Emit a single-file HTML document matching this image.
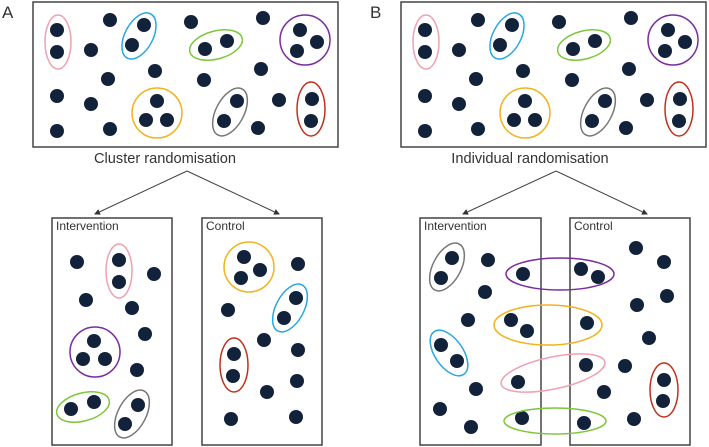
<!DOCTYPE html>
<html><head><style>body{margin:0;background:#fff}svg{display:block}</style></head><body>
<svg width="709" height="447" viewBox="0 0 709 447" xmlns="http://www.w3.org/2000/svg" font-family="Liberation Sans, sans-serif">
<defs>
<g id="top">
<rect x="33" y="2" width="305" height="145" fill="none" stroke="#444" stroke-width="1.5"/>
<g fill="#12223a">
<circle cx="57" cy="30" r="7"/><circle cx="57" cy="52" r="7"/>
<circle cx="110" cy="20" r="7"/><circle cx="91" cy="50" r="7"/>
<circle cx="144" cy="25" r="7"/><circle cx="132" cy="45" r="7"/>
<circle cx="191" cy="22" r="7"/>
<circle cx="205" cy="49" r="7"/><circle cx="227" cy="41" r="7"/>
<circle cx="263" cy="18" r="7"/>
<circle cx="300" cy="30" r="7"/><circle cx="317" cy="42" r="7"/><circle cx="297" cy="51" r="7"/>
<circle cx="108" cy="79" r="7"/><circle cx="155" cy="71" r="7"/><circle cx="204" cy="80" r="7"/><circle cx="261" cy="69" r="7"/>
<circle cx="57" cy="96" r="7"/><circle cx="91" cy="104" r="7"/><circle cx="110" cy="129" r="7"/><circle cx="57" cy="131" r="7"/>
<circle cx="157" cy="101" r="7"/><circle cx="146" cy="120" r="7"/><circle cx="167" cy="120" r="7"/>
<circle cx="237" cy="101" r="7"/><circle cx="224" cy="121" r="7"/>
<circle cx="279" cy="100" r="7"/><circle cx="258" cy="128" r="7"/>
<circle cx="312" cy="99" r="7"/><circle cx="311" cy="121" r="7"/>
</g>
<g fill="none" stroke-width="1.5">
<ellipse cx="58" cy="42" rx="13" ry="27" stroke="#f0a0b0"/>
<ellipse cx="139" cy="36" rx="14" ry="25" stroke="#2aa7e0" transform="rotate(28 139 36)"/>
<ellipse cx="216" cy="45" rx="27" ry="14" stroke="#7cc63a" transform="rotate(-15 216 45)"/>
<circle cx="305" cy="40" r="25" stroke="#7a2c9e"/>
<circle cx="157" cy="113" r="25" stroke="#f2b21b"/>
<ellipse cx="230" cy="112" rx="14" ry="26" stroke="#777" transform="rotate(28 230 112)"/>
<ellipse cx="311" cy="109" rx="14" ry="27" stroke="#c0301d"/>
</g>
</g>
<marker id="ah" markerWidth="6" markerHeight="6" refX="5" refY="3" orient="auto"><path d="M0,0L6,3L0,6z" fill="#333"/></marker>
</defs>
<text x="2" y="18" font-size="17" fill="#333">A</text>
<text x="370" y="18" font-size="17" fill="#333">B</text>
<use href="#top"/>
<use href="#top" transform="translate(368,0)"/>
<text x="165" y="163" font-size="14.6" fill="#333" text-anchor="middle">Cluster randomisation</text>
<text x="530" y="163" font-size="14.6" fill="#333" text-anchor="middle">Individual randomisation</text>
<g stroke="#444" stroke-width="1" marker-end="url(#ah)">
<line x1="187" y1="171" x2="95" y2="214"/><line x1="187" y1="171" x2="279" y2="214"/>
<line x1="556" y1="171" x2="463" y2="214"/><line x1="556" y1="171" x2="647" y2="214"/>
</g>
<g fill="none" stroke="#444" stroke-width="1.5">
<rect x="52" y="218" width="120" height="227"/><rect x="202" y="218" width="120" height="227"/>
<rect x="420" y="218" width="121" height="227"/><rect x="570" y="218" width="120" height="227"/>
</g>
<g font-size="12" fill="#333">
<text x="56" y="230">Intervention</text><text x="206" y="230">Control</text>
<text x="424" y="230">Intervention</text><text x="574" y="230">Control</text>
</g>
<g fill="#12223a">
<circle cx="77" cy="262" r="7"/><circle cx="119" cy="260" r="7"/><circle cx="119" cy="282" r="7"/><circle cx="154" cy="274" r="7"/><circle cx="86" cy="300" r="7"/><circle cx="132" cy="308" r="7"/><circle cx="145" cy="334" r="7"/>
<circle cx="94" cy="341" r="7"/><circle cx="83" cy="359" r="7"/><circle cx="105" cy="359" r="7"/><circle cx="137" cy="370" r="7"/>
<circle cx="71" cy="409" r="7"/><circle cx="94" cy="402" r="7"/><circle cx="138" cy="405" r="7"/><circle cx="125" cy="424" r="7"/>
<circle cx="244" cy="257" r="7"/><circle cx="260" cy="270" r="7"/><circle cx="241" cy="278" r="7"/><circle cx="298" cy="264" r="7"/>
<circle cx="296" cy="298" r="7"/><circle cx="284" cy="318" r="7"/><circle cx="228" cy="310" r="7"/>
<circle cx="264" cy="340" r="7"/><circle cx="298" cy="350" r="7"/><circle cx="234" cy="354" r="7"/><circle cx="233" cy="376" r="7"/>
<circle cx="267" cy="392" r="7"/><circle cx="297" cy="381" r="7"/><circle cx="231" cy="419" r="7"/><circle cx="296" cy="417" r="7"/>
<circle cx="452" cy="258" r="7"/><circle cx="441" cy="278" r="7"/><circle cx="488" cy="260" r="7"/><circle cx="485" cy="292" r="7"/>
<circle cx="523" cy="274" r="7"/><circle cx="581" cy="269" r="7"/><circle cx="598" cy="277" r="7"/>
<circle cx="636" cy="248" r="7"/><circle cx="664" cy="262" r="7"/><circle cx="667" cy="296" r="7"/><circle cx="637" cy="305" r="7"/>
<circle cx="511" cy="320" r="7"/><circle cx="527" cy="331" r="7"/><circle cx="587" cy="323" r="7"/><circle cx="468" cy="320" r="7"/>
<circle cx="441" cy="345" r="7"/><circle cx="457" cy="361" r="7"/><circle cx="649" cy="338" r="7"/>
<circle cx="518" cy="382" r="7"/><circle cx="586" cy="365" r="7"/><circle cx="625" cy="366" r="7"/>
<circle cx="664" cy="380" r="7"/><circle cx="663" cy="401" r="7"/><circle cx="604" cy="392" r="7"/><circle cx="476" cy="389" r="7"/>
<circle cx="522" cy="418" r="7"/><circle cx="584" cy="423" r="7"/><circle cx="634" cy="419" r="7"/>
<circle cx="440" cy="409" r="7"/><circle cx="471" cy="427" r="7"/>
</g>
<g fill="none" stroke-width="1.5">
<ellipse cx="119" cy="271" rx="13" ry="27" stroke="#f0a0b0"/>
<circle cx="95" cy="352" r="25" stroke="#7a2c9e"/>
<ellipse cx="83" cy="407" rx="27" ry="14" stroke="#7cc63a" transform="rotate(-15 83 407)"/>
<ellipse cx="132" cy="414" rx="14" ry="26" stroke="#777" transform="rotate(28 132 414)"/>
<circle cx="249" cy="267" r="25" stroke="#f2b21b"/>
<ellipse cx="290" cy="308" rx="14" ry="26" stroke="#2aa7e0" transform="rotate(28 290 308)"/>
<ellipse cx="234" cy="365" rx="14" ry="27" stroke="#c0301d"/>
<ellipse cx="447" cy="267" rx="14" ry="26" stroke="#777" transform="rotate(28 447 267)"/>
<ellipse cx="560" cy="274" rx="54" ry="16" stroke="#7a2c9e"/>
<ellipse cx="548" cy="325" rx="54" ry="20" stroke="#f2b21b"/>
<ellipse cx="449" cy="353" rx="14" ry="26" stroke="#2aa7e0" transform="rotate(-35 449 353)"/>
<ellipse cx="553" cy="373" rx="53" ry="16" stroke="#f0a0b0" transform="rotate(-12 553 373)"/>
<ellipse cx="664" cy="390" rx="14" ry="27" stroke="#c0301d"/>
<ellipse cx="555" cy="421" rx="51" ry="13" stroke="#7cc63a"/>
</g>
</svg>
</body></html>
